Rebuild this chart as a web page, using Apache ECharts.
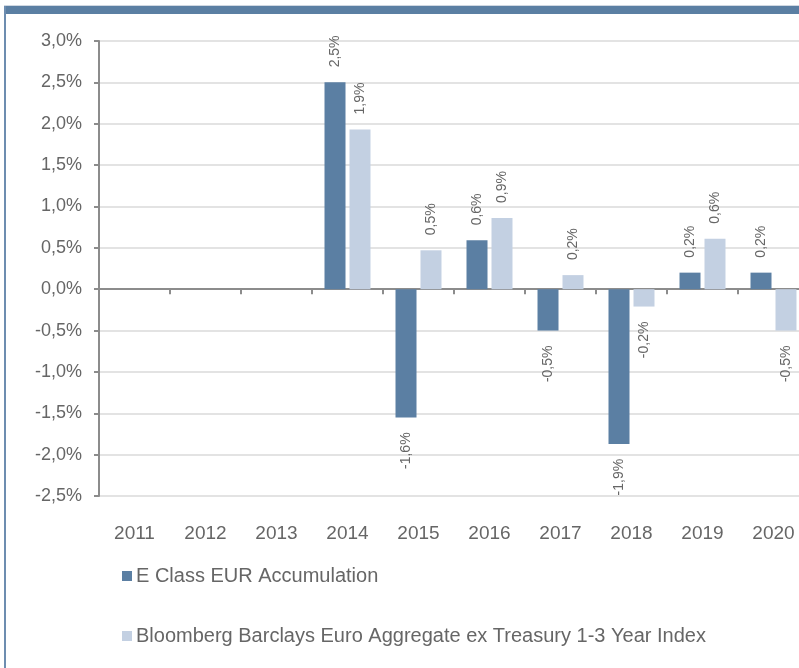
<!DOCTYPE html>
<html>
<head>
<meta charset="utf-8">
<script src="https://cdn.jsdelivr.net/npm/echarts@6/dist/echarts.min.js"></script>
<style>
html,body{margin:0;padding:0;background:#fff;}
#chart{width:799px;height:668px;}
</style>
</head>
<body>
<div id="chart"></div>
<script>
var categories = ['2011','2012','2013','2014','2015','2016','2017','2018','2019','2020'];
var seriesNames = ['E Class EUR Accumulation','Bloomberg Barclays Euro Aggregate ex Treasury 1-3 Year Index'];
var fundValues = [null, null, null, 2.50, -1.55, 0.59, -0.50, -1.87, 0.20, 0.20];
var indexValues = [null, null, null, 1.93, 0.47, 0.86, 0.17, -0.21, 0.61, -0.50];
var fundLabels = ['', '', '', '2,5%', '-1,6%', '0,6%', '-0,5%', '-1,9%', '0,2%', '0,2%'];
var indexLabels = ['', '', '', '1,9%', '0,5%', '0,9%', '0,2%', '-0,2%', '0,6%', '-0,5%'];

var FONT = '"Liberation Sans", Arial, sans-serif';
var TEXT = '#666666';
var DARK = '#5b7fa3';
var LIGHT = '#c3d0e2';

function buildData(values, labels) {
  return values.map(function (v, i) {
    if (v === null) return null;
    var pos = v >= 0;
    return {
      value: v,
      label: {
        show: true,
        formatter: labels[i],
        position: pos ? 'top' : 'bottom',
        rotate: 90,
        align: pos ? 'left' : 'right',
        verticalAlign: 'middle',
        distance: 15,
        color: TEXT,
        fontSize: 14,
        fontFamily: FONT
      }
    };
  });
}

var chart = echarts.init(document.getElementById('chart'), null, {renderer: 'canvas'});
chart.setOption({
  backgroundColor: '#ffffff',
  animation: false,
  graphic: [
    {type: 'rect', shape: {x: 4, y: 5, width: 795, height: 1}, style: {fill: '#d0d8e2'}},
    {type: 'rect', shape: {x: 4, y: 6, width: 795, height: 8}, style: {fill: DARK}},
    {type: 'rect', shape: {x: 4, y: 6, width: 2, height: 662}, style: {fill: '#6d8db0'}}
  ],
  grid: {left: 99, top: 41, width: 710, height: 455, containLabel: false, outerBoundsMode: 'none'},
  legend: {
    orient: 'vertical',
    left: 122,
    top: 566,
    padding: 0,
    itemGap: 40,
    itemWidth: 10,
    itemHeight: 10,
    icon: 'rect',
    data: seriesNames,
    textStyle: {color: TEXT, fontSize: 20, fontFamily: FONT, padding: [0, 0, 0, -1]}
  },
  xAxis: [
    {
      type: 'category',
      data: categories,
      position: 'bottom',
      axisLine: {show: false, onZero: false},
      axisTick: {show: false},
      axisLabel: {color: TEXT, fontSize: 19, fontFamily: FONT, margin: 28},
      splitLine: {show: false}
    },
    {
      type: 'category',
      data: categories,
      position: 'bottom',
      axisLine: {show: true, onZero: true, lineStyle: {color: '#8c8c8c', width: 2}},
      axisTick: {show: true, length: 5, lineStyle: {color: '#8c8c8c', width: 2}},
      axisLabel: {show: false},
      splitLine: {show: false}
    }
  ],
  yAxis: {
    type: 'value',
    min: -2.5,
    max: 3.0,
    interval: 0.5,
    axisLine: {show: true, lineStyle: {color: '#8c8c8c', width: 2}},
    axisTick: {show: true, length: 5, lineStyle: {color: '#8c8c8c', width: 2}},
    axisLabel: {
      color: TEXT, fontSize: 18, fontFamily: FONT, margin: 17,
      formatter: function (v) { return v.toFixed(1).replace('.', ',') + '%'; }
    },
    splitLine: {show: true, lineStyle: {color: '#dadada', width: 1.5}}
  },
  series: [
    {
      name: seriesNames[0],
      type: 'bar',
      xAxisIndex: 0,
      data: buildData(fundValues, fundLabels),
      barWidth: 21,
      barGap: '19%',
      itemStyle: {color: DARK}
    },
    {
      name: seriesNames[1],
      type: 'bar',
      xAxisIndex: 0,
      data: buildData(indexValues, indexLabels),
      barWidth: 21,
      barGap: '19%',
      itemStyle: {color: LIGHT}
    }
  ]
});
</script>
</body>
</html>
